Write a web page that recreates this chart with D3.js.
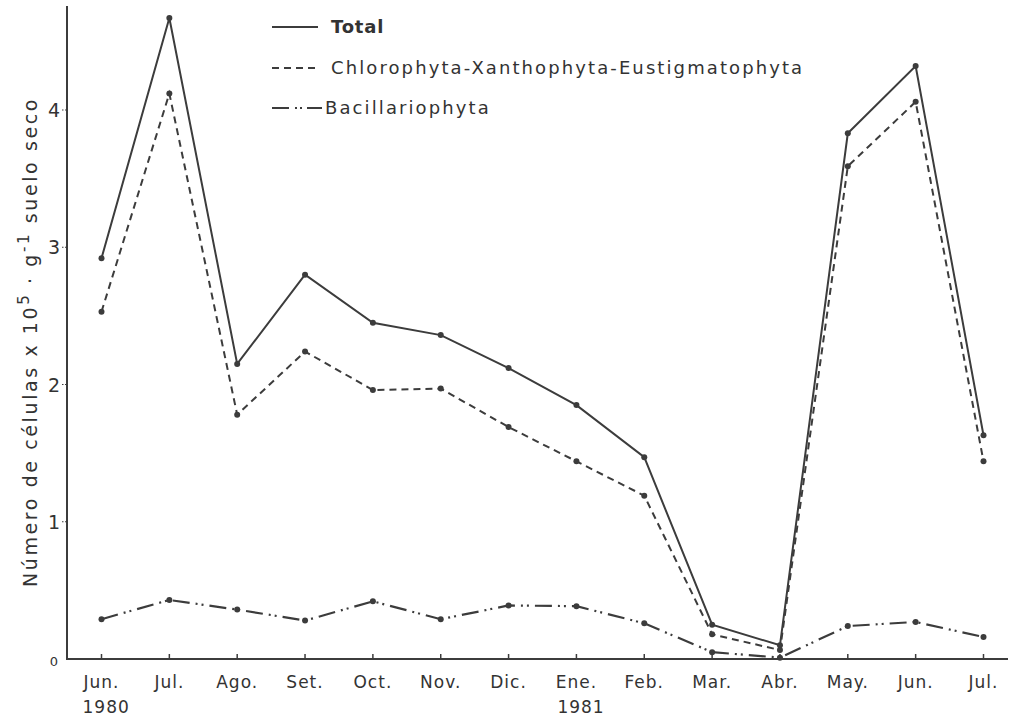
<!DOCTYPE html>
<html>
<head>
<meta charset="utf-8">
<script src="https://cdn.jsdelivr.net/npm/d3@7"></script>
<style>
  body { margin: 0; background: #fff; }
  text { font-family: "DejaVu Sans", sans-serif; fill: #333; }
</style>
</head>
<body>
<div id="chart"></div>
<script>
// months (x axis) and year labels
let months = ["Jun.", "Jul.", "Ago.", "Set.", "Oct.", "Nov.", "Dic.", "Ene.", "Feb.", "Mar.", "Abr.", "May.", "Jun.", "Jul."];
let years = [{i: 0, label: "1980"}, {i: 7, label: "1981"}];
let yTicks = [0, 1, 2, 3, 4];

// series, x 10^5 cells per g dry soil
let total = [2.92, 4.67, 2.15, 2.80, 2.45, 2.36, 2.12, 1.85, 1.47, 0.25, 0.10, 3.83, 4.32, 1.63];
let chloro = [2.53, 4.12, 1.78, 2.24, 1.96, 1.97, 1.69, 1.44, 1.19, 0.18, 0.065, 3.59, 4.06, 1.44];
let bacil = [0.29, 0.43, 0.36, 0.28, 0.42, 0.29, 0.39, 0.385, 0.26, 0.05, 0.01, 0.24, 0.27, 0.16];

let legendNames = ["Total", "Chlorophyta-Xanthophyta-Eustigmatophyta", "Bacillariophyta"];
let dashes = [null, "7,5", "17,6,2,4,2,6"];

let W = 1019, H = 719;
let svg = d3.select("#chart").append("svg")
  .attr("width", W).attr("height", H);

let ink = "#3c3c3c";

// scales
let x = d3.scaleLinear().domain([0, 13]).range([101.5, 983.5]);
let y = d3.scaleLinear().domain([0, 4]).range([659, 110]);

// axes lines
svg.append("line")
  .attr("x1", 67).attr("x2", 67)
  .attr("y1", 6).attr("y2", y(0) + 1)
  .attr("stroke", ink).attr("stroke-width", 2);
svg.append("line")
  .attr("x1", 66).attr("x2", 1008)
  .attr("y1", y(0)).attr("y2", y(0))
  .attr("stroke", ink).attr("stroke-width", 2);

// x ticks (inside)
svg.append("g").selectAll("line")
  .data(months)
  .enter().append("line")
    .attr("x1", (d, i) => x(i)).attr("x2", (d, i) => x(i))
    .attr("y1", y(0)).attr("y2", y(0) - 5)
    .attr("stroke", ink).attr("stroke-width", 1.5);

svg.append("g").selectAll("text")
  .data(months)
  .enter().append("text")
    .attr("x", (d, i) => x(i))
    .attr("y", 688)
    .attr("text-anchor", "middle")
    .style("font-size", "17px")
    .style("letter-spacing", "1px")
    .text(d => d);

svg.append("g").selectAll("text")
  .data(years)
  .enter().append("text")
    .attr("x", d => x(d.i) - 19)
    .attr("y", 713)
    .style("font-size", "17px")
    .style("letter-spacing", "1px")
    .text(d => d.label);

// y ticks (outside, left)
svg.append("g").selectAll("line")
  .data(yTicks.slice(1))
  .enter().append("line")
    .attr("x1", 62).attr("x2", 67)
    .attr("y1", d => y(d)).attr("y2", d => y(d))
    .attr("stroke", ink).attr("stroke-width", 1.2)
    .attr("stroke-dasharray", "1.5,1.5");

svg.append("g").selectAll("text")
  .data(yTicks)
  .enter().append("text")
    .attr("x", 54)
    .attr("y", d => y(d) + 7)
    .attr("text-anchor", "middle")
    .style("font-size", d => d === 0 ? "13px" : "19px")
    .text(d => d);

// y axis title
let yt = svg.append("text")
  .attr("transform", "translate(37,342) rotate(-90)")
  .attr("text-anchor", "middle")
  .style("font-size", "19px")
  .style("letter-spacing", "2.6px");
yt.append("tspan").text("Número de células x 10");
yt.append("tspan").attr("dy", -8).style("font-size", "15px").text("5");
yt.append("tspan").attr("dy", 8).text(" · g");
yt.append("tspan").attr("dy", -8).style("font-size", "15px").text("-1");
yt.append("tspan").attr("dy", 8).text(" suelo seco");

// lines
let line = d3.line()
  .x((d, i) => x(i))
  .y(d => y(d));

let seriesList = [total, chloro, bacil];
seriesList.forEach((s, k) => {
  svg.append("path")
    .datum(s)
    .attr("d", line)
    .attr("fill", "none")
    .attr("stroke", ink)
    .attr("stroke-width", k === 2 ? 2.2 : 2)
    .attr("stroke-dasharray", dashes[k]);
  svg.append("g").selectAll("circle")
    .data(s)
    .enter().append("circle")
      .attr("cx", (d, i) => x(i))
      .attr("cy", d => y(d))
      .attr("r", 3)
      .attr("fill", ink);
});

// legend
let legY = [27, 68, 108];
legendNames.forEach((name, k) => {
  svg.append("line")
    .attr("x1", 272).attr("x2", k === 2 ? 322 : 318)
    .attr("y1", legY[k]).attr("y2", legY[k])
    .attr("stroke", ink).attr("stroke-width", 2)
    .attr("stroke-dasharray", k === 2 ? "17,6,2,3,2,5,20" : dashes[k]);
  svg.append("text")
    .attr("x", k === 2 ? 325 : 331)
    .attr("y", legY[k] + 6)
    .style("font-size", "18px")
    .style("letter-spacing", k === 0 ? "0.8px" : "2.1px")
    .style("font-weight", k === 0 ? "600" : "normal")
    .text(name);
});
</script>
</body>
</html>
